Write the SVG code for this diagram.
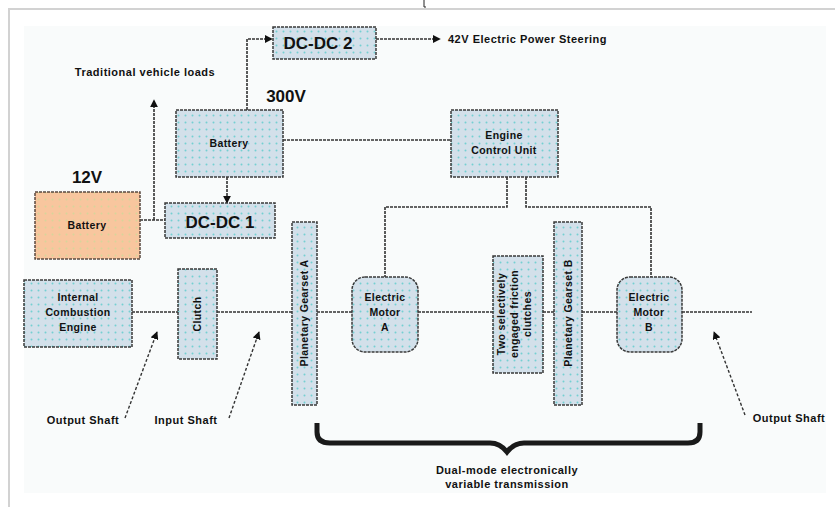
<svg xmlns="http://www.w3.org/2000/svg" width="835" height="507" viewBox="0 0 835 507">
<defs>
<style>
.box{fill:url(#dotsBlue);stroke:#3a3a3a;stroke-width:1.5;stroke-dasharray:3 1}
.orange{fill:url(#dotsOrange);stroke:#5a4a40;stroke-width:1.5;stroke-dasharray:3 1}
.lbl{font-family:"Liberation Sans",Arial,sans-serif;font-weight:bold;font-size:10.5px;letter-spacing:0.4px;fill:#111;text-anchor:middle}
.big{font-family:"Liberation Sans",Arial,sans-serif;font-size:17px;fill:#111;text-anchor:middle;font-weight:bold}
.note{font-family:"Liberation Sans",Arial,sans-serif;font-weight:bold;font-size:11px;letter-spacing:0.5px;fill:#111}
.ln{fill:none;stroke:#333;stroke-width:1.6;stroke-dasharray:3 1}
.ptr{fill:none;stroke:#333;stroke-width:1.4;stroke-dasharray:3 2}
</style>
<pattern id="dotsBlue" width="7" height="7" patternUnits="userSpaceOnUse">
<rect width="7" height="7" fill="#d3e0ea"/>
<circle cx="3.5" cy="3.5" r="1" fill="#73d0d2"/>
</pattern>
<pattern id="dotsOrange" width="7" height="7" patternUnits="userSpaceOnUse">
<rect width="7" height="7" fill="#f8c69e"/>
<circle cx="3.5" cy="3.5" r="1" fill="#d6d69a"/>
</pattern>
<marker id="ah" viewBox="0 0 10 10" refX="9" refY="5" markerWidth="8" markerHeight="8" markerUnits="userSpaceOnUse" orient="auto">
<path d="M0,0 L10,5 L0,10 z" fill="#111"/>
</marker>
</defs>
<rect width="835" height="507" fill="#ffffff"/>
<g id="frame">
<rect x="24" y="26" width="802" height="467" fill="#f9fbfb"/>
<path d="M8,9 H835 M9,9 V507" fill="none" stroke="#d2d2d2" stroke-width="2"/>
<path d="M424,0 V7 H426" fill="none" stroke="#222" stroke-width="1"/>
</g>
<g id="connectors">
<path class="ln" d="M247,110 V39 H272" marker-end="url(#ah)"/>
<path class="ln" d="M376,39 H440" marker-end="url(#ah)"/>
<path class="ln" d="M283,140 H451"/>
<path class="ln" d="M227,177 V203" marker-end="url(#ah)"/>
<path class="ln" d="M140,220 H165"/>
<path class="ln" d="M154,220 V100" marker-end="url(#ah)"/>
<path class="ln" d="M507,177 V207 H385 V277"/>
<path class="ln" d="M526,177 V207 H651 V277"/>
<path class="ln" d="M132,312 H178 M217,312 H292 M317,312 H352 M418,312 H493 M543,312 H554 M582,312 H617 M682,312 H752"/>
<path class="ptr" d="M125,418 L157,332" marker-end="url(#ah)"/>
<path class="ptr" d="M229,418 L259,332" marker-end="url(#ah)"/>
<path class="ptr" d="M745,415 L714,332" marker-end="url(#ah)"/>
<path d="M317,423 V432 Q317,443 330,443 H490 Q500,443 507,452 Q514,443 524,443 H688 Q700,443 700,432 V423" fill="none" stroke="#1a1a1a" stroke-width="5"/>
</g>
<g id="dcdc2">
<rect class="box" x="273" y="27" width="103" height="32"/>
<text class="big" x="318" y="49">DC-DC 2</text>
</g>
<g id="eps-label"><text class="note" x="448" y="43">42V Electric Power Steering</text></g>
<g id="loads-label"><text class="note" x="145" y="76" text-anchor="middle">Traditional vehicle loads</text></g>
<g id="v300"><text class="big" x="286" y="102" font-size="19">300V</text></g>
<g id="battery300">
<rect class="box" x="176" y="110" width="107" height="67"/>
<text class="lbl" x="229" y="147">Battery</text>
</g>
<g id="ecu">
<rect class="box" x="451" y="110" width="107" height="67"/>
<text class="lbl" x="504" y="139">Engine</text>
<text class="lbl" x="504" y="154">Control Unit</text>
</g>
<g id="v12"><text class="big" x="87" y="183" font-size="19">12V</text></g>
<g id="battery12">
<rect class="orange" x="35" y="192" width="105" height="67"/>
<text class="lbl" x="87" y="229">Battery</text>
</g>
<g id="dcdc1">
<rect class="box" x="165" y="203" width="110" height="35"/>
<text class="big" x="220" y="228">DC-DC 1</text>
</g>
<g id="ice">
<rect class="box" x="24" y="280" width="108" height="67"/>
<text class="lbl" x="78" y="301">Internal</text>
<text class="lbl" x="78" y="316">Combustion</text>
<text class="lbl" x="78" y="331">Engine</text>
</g>
<g id="clutch">
<rect class="box" x="178" y="269" width="39" height="90"/>
<text class="lbl" transform="translate(201,314) rotate(-90)">Clutch</text>
</g>
<g id="pga">
<rect class="box" x="292" y="222" width="25" height="183"/>
<text class="lbl" transform="translate(308,313) rotate(-90)">Planetary Gearset A</text>
</g>
<g id="motorA">
<rect class="box" x="352" y="277" width="66" height="75" rx="13"/>
<text class="lbl" x="385" y="301">Electric</text>
<text class="lbl" x="385" y="316">Motor</text>
<text class="lbl" x="385" y="331">A</text>
</g>
<g id="frictionClutches">
<rect class="box" x="493" y="256" width="50" height="117"/>
<text class="lbl" transform="translate(505,314) rotate(-90)" font-size="9.5" letter-spacing="0">Two selectively</text>
<text class="lbl" transform="translate(518,314) rotate(-90)" font-size="9.5" letter-spacing="0">engaged friction</text>
<text class="lbl" transform="translate(531,314) rotate(-90)" font-size="9.5" letter-spacing="0">clutches</text>
</g>
<g id="pgb">
<rect class="box" x="554" y="222" width="28" height="183"/>
<text class="lbl" transform="translate(572,313) rotate(-90)">Planetary Gearset B</text>
</g>
<g id="motorB">
<rect class="box" x="617" y="277" width="65" height="75" rx="13"/>
<text class="lbl" x="649" y="301">Electric</text>
<text class="lbl" x="649" y="316">Motor</text>
<text class="lbl" x="649" y="331">B</text>
</g>
<g id="shaft-labels">
<text class="note" x="83" y="424" text-anchor="middle">Output Shaft</text>
<text class="note" x="186" y="424" text-anchor="middle">Input Shaft</text>
<text class="note" x="789" y="422" text-anchor="middle">Output Shaft</text>
</g>
<g id="transmission-label">
<text class="note" x="507" y="474" text-anchor="middle">Dual-mode electronically</text>
<text class="note" x="507" y="488" text-anchor="middle">variable transmission</text>
</g>
</svg>
